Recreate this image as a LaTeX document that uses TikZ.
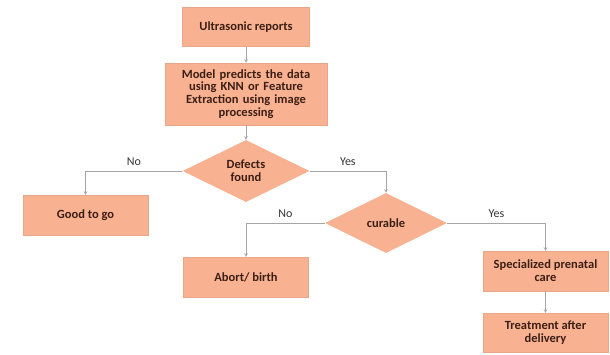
\documentclass[tikz,border=0pt]{standalone}
\usepackage{fontspec}
\setmainfont{Carlito}
\usetikzlibrary{shapes.geometric}
\definecolor{boxfill}{RGB}{248,178,146}
\definecolor{boxtext}{RGB}{60,30,20}
\definecolor{linegray}{RGB}{165,165,165}
\tikzset{
  block/.style = {draw=boxfill!85!black!40!boxfill, fill=boxfill, rectangle, text=boxtext,
                  font=\fontsize{12.5}{12.7}\selectfont\bfseries, align=center, inner sep=1pt},
  decision/.style = {fill=boxfill, diamond, text=boxtext, inner sep=0pt,
                     font=\fontsize{12.5}{12.7}\selectfont\bfseries, align=center},
  line/.style = {draw=linegray, line width=0.6pt, ->},
  lbl/.style = {font=\fontsize{12}{12}\selectfont, text=black!80, above=2pt},
}

\begin{document}
\begin{tikzpicture}[>=stealth, x=1pt, y=-1pt]
    \useasboundingbox (0,0) rectangle (610,354);
    \node [block, minimum width=127pt, minimum height=39pt] (reports) at (246,27) {Ultrasonic reports};
    \node [block, minimum width=162pt, minimum height=62pt, text width=158pt] (model) at (246,94)
        {Model predicts the data\\ using KNN or Feature\\ Extraction using image\\ processing};
    \node [decision, minimum width=127pt, minimum height=62pt] (defects) at (246,171) {Defects\\ found};
    \node [block, minimum width=125pt, minimum height=40pt] (good) at (85.5,215) {Good to go};
    \node [decision, minimum width=122pt, minimum height=60pt] (curable) at (386,223) {curable};
    \node [block, minimum width=125pt, minimum height=40pt] (abort) at (246,277) {Abort/ birth};
    \node [block, minimum width=125pt, minimum height=40pt] (prenatal) at (545.5,271) {Specialized prenatal\\ care};
    \node [block, minimum width=125pt, minimum height=39pt] (treatment) at (545.5,332.5) {Treatment after\\ delivery};
    \draw [line] (reports) -- (model);
    \draw [line] (model) -- (defects);
    \draw [line] (defects.west) -| node[lbl, pos=0.25]{No} (good.north);
    \draw [line] (defects.east) -| node[lbl, pos=0.25]{Yes} (curable.north);
    \draw [line] (curable.west) -| node[lbl, pos=0.25]{No} (abort.north);
    \draw [line] (curable.east) -| node[lbl, pos=0.25]{Yes} (prenatal.north);
    \draw [line] (prenatal) -- (treatment);
\end{tikzpicture}
\end{document}
